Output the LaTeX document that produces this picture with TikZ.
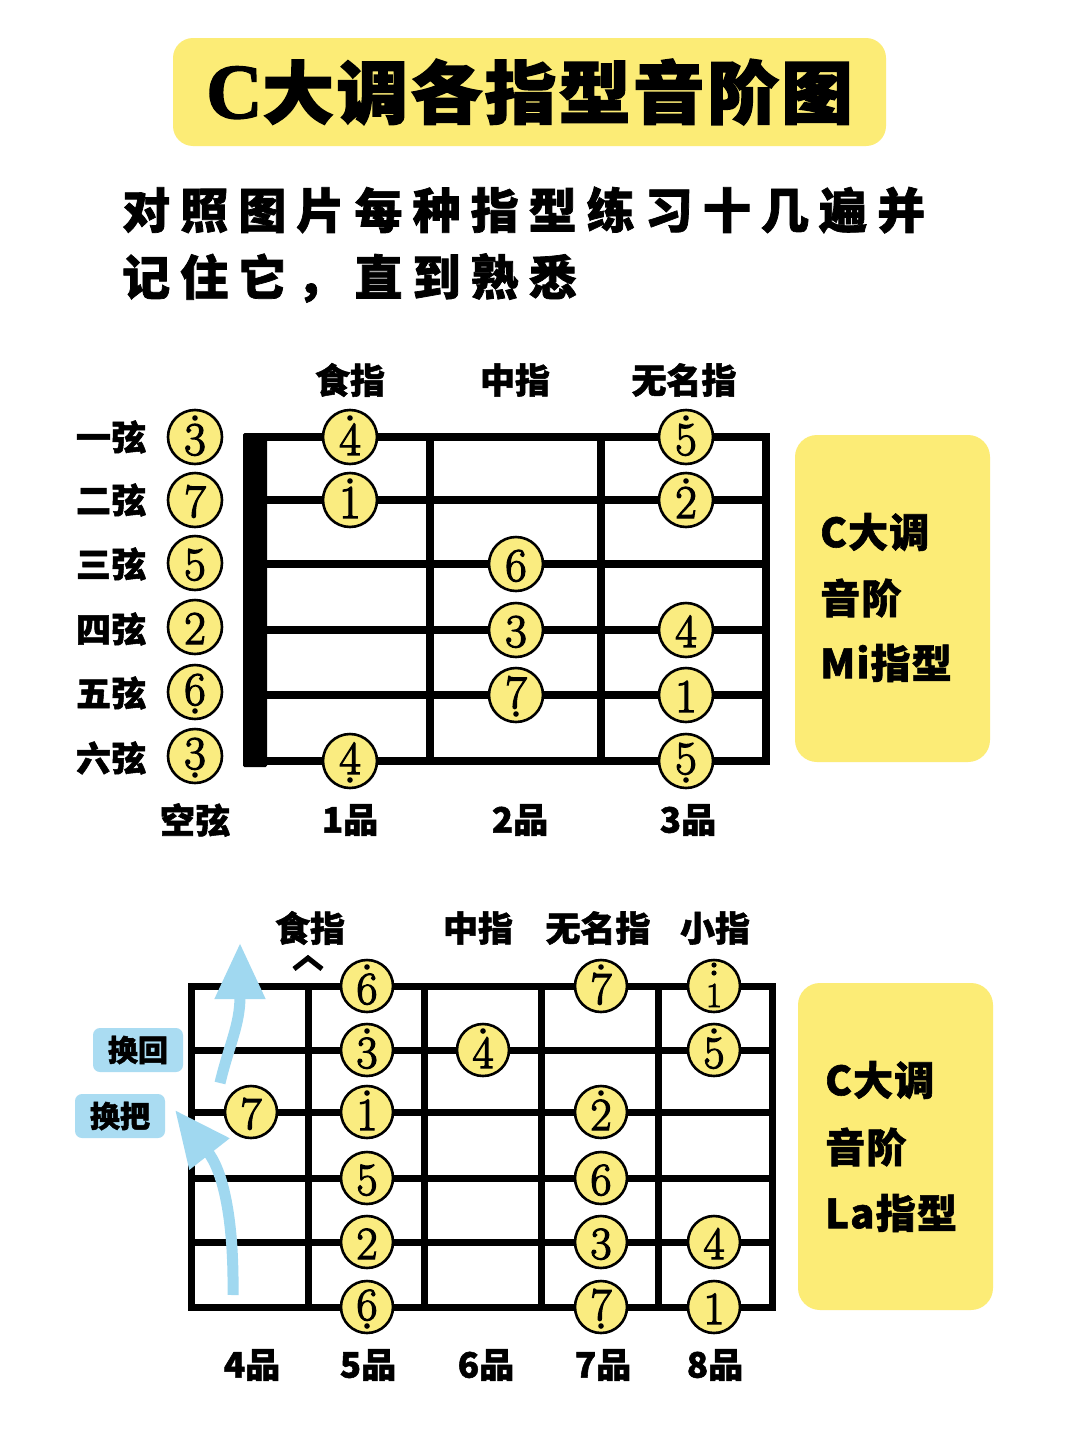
\documentclass[tikz,border=0pt]{standalone}
\usepackage{fontspec}
\usetikzlibrary{arrows.meta}
\newfontfamily\cjkL{Noto Sans CJK SC}[FakeBold=1.5]
\newfontfamily\cjkT{Noto Sans CJK SC}[FakeBold=2.5,FakeStretch=1.05,LetterSpace=4]
\newfontfamily\cjkS{Noto Sans CJK SC}[FakeBold=1.5,LetterSpace=21]
\newfontfamily\cjkR{Noto Sans CJK SC}[FakeBold=1.5,LetterSpace=3]
\newfontfamily\serifC{Liberation Serif}[FakeBold=2]
\newfontfamily\digitf{Latin Modern Roman}[FakeBold=2.6]
\definecolor{titley}{RGB}{252,236,118}
\definecolor{notey}{RGB}{250,236,128}
\definecolor{arrowblue}{RGB}{160,216,240}
\definecolor{labelblue}{RGB}{170,220,242}
\tikzset{
  note/.style={circle, draw=black, line width=2.6pt, fill=notey, minimum size=54pt,
    inner sep=0pt, text height=30pt, text depth=0pt, font=\digitf\fontsize{47}{47}\selectfont},
  smallnote/.style={note, minimum size=52pt, font=\digitf\fontsize{46}{46}\selectfont},
  lbl/.style={inner sep=0pt, font=\cjkL\bfseries\fontsize{35}{35}\selectfont},
  sidetxt/.style={inner sep=0pt, anchor=west, font=\cjkR\bfseries\fontsize{40}{40}\selectfont},
  sidebox/.style={fill=titley, rounded corners=22pt, minimum width=195pt, minimum height=327pt, inner sep=0pt},
  bluebox/.style={fill=labelblue, rounded corners=7pt, minimum width=90pt, minimum height=44pt,
    inner sep=0pt, font=\cjkL\bfseries\fontsize{30}{30}\selectfont},
  gridA/.style={line width=7.5pt, line cap=rect},
  gridB/.style={line width=7pt, line cap=rect},
  movearrow/.style={arrowblue, line width=11pt, -{Triangle[length=56pt,width=48pt]}},
}
% style, name, x, y, digit, dots (0 none, 1 above, 2 below, 3 two above)
\newcommand\nt[6]{%
  \ifcase#6\relax
    \node[#1] (#2) at (#3,#4) {\raisebox{-2pt}{#5}};%
  \or
    \node[#1] (#2) at (#3,#4) {\raisebox{-3pt}{#5}};%
    \fill ([yshift=19pt]#2.center) circle[radius=2.8pt];%
  \or
    \node[#1] (#2) at (#3,#4) {\raisebox{2pt}{#5}};%
    \fill ([yshift=-19pt]#2.center) circle[radius=2.8pt];%
  \or
    \node[#1] (#2) at (#3,#4) {\raisebox{-6pt}{\fontsize{35}{35}\selectfont #5}};%
    \fill ([yshift=21pt]#2.center) circle[radius=2.6pt];%
    \fill ([yshift=13pt]#2.center) circle[radius=2.6pt];%
  \fi}
\begin{document}
\begin{tikzpicture}[x=1pt,y=-1pt]
\useasboundingbox (0,0) rectangle (1080,1440);
\fill[white] (0,0) rectangle (1080,1440);

% title
\node[fill=titley, rounded corners=20pt, minimum width=713pt, minimum height=108pt, inner sep=0pt] (title) at (529.5,92)
  {{\serifC\bfseries\fontsize{78}{78}\selectfont C}{\cjkT\bfseries\fontsize{68}{68}\selectfont 大调各指型音阶图}};

% subtitle
\node[anchor=west, inner sep=0pt, font=\cjkS\bfseries\fontsize{48}{48}\selectfont] (sub1) at (122,210) {对照图片每种指型练习十几遍并};
\node[anchor=west, inner sep=0pt, font=\cjkS\bfseries\fontsize{48}{48}\selectfont] (sub2) at (122,278) {记住它，直到熟悉};

% ---------- top diagram ----------
\draw[gridA] (255,437) rectangle (766,761);
\foreach \yy in {500,564,630,695} \draw[gridA] (255,\yy) -- (766,\yy);
\foreach \xx in {430,601} \draw[gridA] (\xx,437) -- (\xx,761);
\fill[rounded corners=1.5pt] (243,433) rectangle (267,767);

\node[lbl] (fA1) at (350,380) {食指};
\node[lbl] (fA2) at (515,380) {中指};
\node[lbl] (fA3) at (684,380) {无名指};

\node[lbl] (s1) at (111,437) {一弦};
\node[lbl] (s2) at (111,500) {二弦};
\node[lbl] (s3) at (111,564) {三弦};
\node[lbl] (s4) at (111,629) {四弦};
\node[lbl] (s5) at (111,693) {五弦};
\node[lbl] (s6) at (111,758) {六弦};

\node[lbl] (pA0) at (195,820) {空弦};
\node[lbl] (pA1) at (350,820) {1品};
\node[lbl] (pA2) at (520,820) {2品};
\node[lbl] (pA3) at (688,820) {3品};

\nt{note}{o1}{195}{437}{3}{1}
\nt{note}{o2}{195}{500}{7}{0}
\nt{note}{o3}{195}{563}{5}{0}
\nt{note}{o4}{195}{627}{2}{0}
\nt{note}{o5}{195}{692}{6}{2}
\nt{note}{o6}{195}{756}{3}{2}

\nt{note}{a11}{350}{437}{4}{1}
\nt{note}{a12}{350}{500}{1}{1}
\nt{note}{a16}{350}{761}{4}{2}

\nt{note}{a23}{516}{564}{6}{0}
\nt{note}{a24}{516}{630}{3}{0}
\nt{note}{a25}{516}{695}{7}{2}

\nt{note}{a31}{686}{437}{5}{1}
\nt{note}{a32}{686}{500}{2}{1}
\nt{note}{a34}{686}{630}{4}{0}
\nt{note}{a35}{686}{695}{1}{0}
\nt{note}{a36}{686}{761}{5}{2}

\node[sidebox] (boxA) at (892.5,598.5) {};
\node[sidetxt] (boxA1) at (820,532) {C大调};
\node[sidetxt] (boxA2) at (820,598) {音阶};
\node[sidetxt] (boxA3) at (820,663) {Mi指型};

% ---------- bottom diagram ----------
\draw[gridB] (191,986) rectangle (772,1307);
\foreach \yy in {1050,1112,1178,1242} \draw[gridB] (191,\yy) -- (772,\yy);
\foreach \xx in {308,424,541,658} \draw[gridB] (\xx,986) -- (\xx,1307);

\node[lbl] (fB1) at (310,928) {食指};
\node[lbl] (fB2) at (478,928) {中指};
\node[lbl] (fB3) at (598,928) {无名指};
\node[lbl] (fB4) at (715,928) {小指};
\draw[line width=5pt, miter limit=10] (294,969) -- (308,958) -- (322,969);

\node[lbl] (pB4) at (252,1365) {4品};
\node[lbl] (pB5) at (368,1365) {5品};
\node[lbl] (pB6) at (486,1365) {6品};
\node[lbl] (pB7) at (603,1365) {7品};
\node[lbl] (pB8) at (715,1365) {8品};

% position-shift arrows
\coordinate (up1s) at (233,1295);
\coordinate (up1e) at (175,1110);
\coordinate (up2s) at (220,1083);
\coordinate (up2e) at (240,943);
\draw[movearrow] (up1s) .. controls (234,1215) and (222,1170) .. (up1e);
\draw[movearrow] (up2s) .. controls (229,1045) and (240,1025) .. (up2e);

\node[bluebox] (huanhui) at (138,1050) {换回};
\node[bluebox] (huanba) at (120,1116) {换把};

\nt{smallnote}{b01}{251}{1112}{7}{0}

\nt{smallnote}{b11}{367}{986}{6}{1}
\nt{smallnote}{b12}{367}{1050}{3}{1}
\nt{smallnote}{b13}{367}{1112}{1}{1}
\nt{smallnote}{b14}{367}{1178}{5}{0}
\nt{smallnote}{b15}{367}{1242}{2}{0}
\nt{smallnote}{b16}{367}{1307}{6}{2}

\nt{smallnote}{b22}{483}{1050}{4}{1}

\nt{smallnote}{b31}{601}{986}{7}{1}
\nt{smallnote}{b33}{601}{1112}{2}{1}
\nt{smallnote}{b34}{601}{1178}{6}{0}
\nt{smallnote}{b35}{601}{1242}{3}{0}
\nt{smallnote}{b36}{601}{1307}{7}{2}

\nt{smallnote}{b41}{714}{986}{1}{3}
\nt{smallnote}{b42}{714}{1050}{5}{1}
\nt{smallnote}{b45}{714}{1242}{4}{0}
\nt{smallnote}{b46}{714}{1307}{1}{0}

\node[sidebox] (boxB) at (895.5,1146.5) {};
\node[sidetxt] (boxB1) at (825,1080) {C大调};
\node[sidetxt] (boxB2) at (825,1147) {音阶};
\node[sidetxt] (boxB3) at (825,1213) {La指型};
\end{tikzpicture}
\end{document}
